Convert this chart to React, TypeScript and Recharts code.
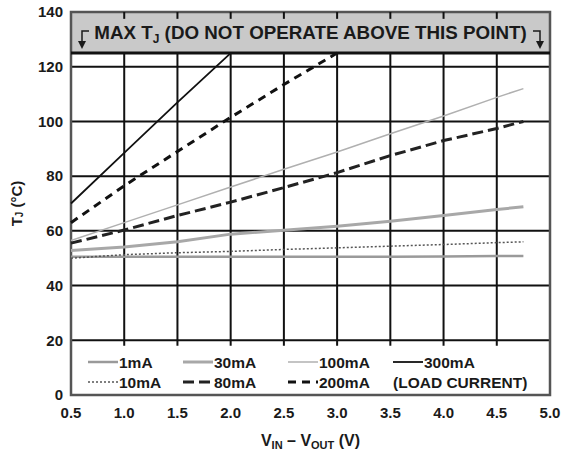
import {
  LineChart,
  Line,
  XAxis,
  YAxis,
  CartesianGrid,
  ReferenceArea,
  ReferenceLine,
} from "recharts";

// V_IN - V_OUT (V)
const vDiff = [0.5, 1.0, 1.5, 2.0, 2.5, 3.0, 3.5, 4.0, 4.5, 4.75];

// junction temperature (°C) per load current
const tj1mA = [50.5, 50.5, 50.5, 50.5, 50.5, 50.5, 50.5, 50.6, 50.8, 50.8];
const tj10mA = [50, 51.3, 52, 52.5, 53.2, 53.8, 54.4, 55, 55.7, 56];
const tj30mA = [52.8, 54.1, 56, 58.8, 60.2, 61.7, 63.5, 65.6, 67.8, 68.8];
const tj80mA = [55.5, 60.3, 65.6, 70.5, 75.8, 81.3, 87.5, 93, 97.4, 100];
const tj100mA = [56.5, 63, 69.5, 76, 82.5, 88.8, 95.5, 102, 108.8, 112];
const tj200mA = [63, 76.5, 89, 101.5, 113.5, 125, null, null, null, null];
const tj300mA = [70, 88.5, 107, 125, null, null, null, null, null, null];

const xTicks = [0.5, 1.0, 1.5, 2.0, 2.5, 3.0, 3.5, 4.0, 4.5, 5.0];
const yTicks = [0, 20, 40, 60, 80, 100, 120, 140];
const vGrid = [1.0, 1.5, 2.0, 2.5, 3.0, 3.5, 4.0, 4.5];
const maxTj = 125;

const rows = vDiff.map((v, i) => ({
  v,
  a1: tj1mA[i],
  a10: tj10mA[i],
  a30: tj30mA[i],
  a80: tj80mA[i],
  a100: tj100mA[i],
  a200: tj200mA[i],
  a300: tj300mA[i],
}));

const INK = "#1a1a1a";
const FONT = "'Liberation Sans', Arial, sans-serif";

function BandLabel(props: any) {
  const { x, y, width } = props.viewBox;
  const lx = x + 11;
  const rx = x + width - 10;
  return (
    <g>
      <text
        x={x + width / 2}
        y={y + 27}
        textAnchor="middle"
        fontFamily={FONT}
        fontWeight="bold"
        fontSize={18.8}
        fill={INK}
      >
        MAX T
        <tspan fontSize={12} dy={4}>J</tspan>
        <tspan dy={-4}> (DO NOT OPERATE ABOVE THIS POINT)</tspan>
      </text>
      <path d={`M${lx + 7},${y + 19} H${lx} V${y + 32}`} stroke={INK} strokeWidth={1.5} fill="none" />
      <path d={`M${lx - 4},${y + 29} L${lx + 4},${y + 29} L${lx},${y + 37} Z`} fill={INK} />
      <path d={`M${rx - 7},${y + 19} H${rx} V${y + 32}`} stroke={INK} strokeWidth={1.5} fill="none" />
      <path d={`M${rx - 4},${y + 29} L${rx + 4},${y + 29} L${rx},${y + 37} Z`} fill={INK} />
    </g>
  );
}

function YLabel(props: any) {
  const { x, y, height } = props.viewBox;
  const cx = x + 16;
  const cy = y + height / 2;
  return (
    <text
      x={cx}
      y={cy}
      transform={`rotate(-90, ${cx}, ${cy})`}
      textAnchor="middle"
      dominantBaseline="central"
      fontFamily={FONT}
      fontWeight="bold"
      fontSize={15}
      fill={INK}
    >
      T<tspan fontSize={10} dy={3}>J</tspan>
      <tspan dy={-3}> (°C)</tspan>
    </text>
  );
}

function XLabel(props: any) {
  const { x, y, width } = props.viewBox;
  return (
    <text
      x={x + width / 2}
      y={y + 51}
      textAnchor="middle"
      fontFamily={FONT}
      fontWeight="bold"
      fontSize={16}
      fill={INK}
    >
      V<tspan fontSize={11} dy={3}>IN</tspan>
      <tspan dy={-3}> – V</tspan>
      <tspan fontSize={11} dy={3}>OUT</tspan>
      <tspan dy={-3}> (V)</tspan>
    </text>
  );
}

const legendItems = [
  { name: "1mA", col: 0, row: 0, color: "#9a9a9a", width: 2.5, dash: undefined },
  { name: "30mA", col: 1, row: 0, color: "#a8a8a8", width: 3, dash: undefined },
  { name: "100mA", col: 2, row: 0, color: "#b0b0b0", width: 1.5, dash: undefined },
  { name: "300mA", col: 3, row: 0, color: "#111", width: 1.8, dash: undefined },
  { name: "10mA", col: 0, row: 1, color: "#555", width: 1.5, dash: "2 2" },
  { name: "80mA", col: 1, row: 1, color: "#222", width: 3, dash: "11 5" },
  { name: "200mA", col: 2, row: 1, color: "#111", width: 3, dash: "8 6" },
];
const legendCols = [88, 183, 288, 393];
const legendRows = [362, 382];

function LegendOverlay() {
  return (
    <svg
      width={561}
      height={457}
      style={{ position: "absolute", left: 0, top: 0, pointerEvents: "none" }}
    >
      {legendItems.map((it) => {
        const x = legendCols[it.col];
        const y = legendRows[it.row];
        return (
          <g key={it.name}>
            <line
              x1={x}
              x2={x + 30}
              y1={y}
              y2={y}
              stroke={it.color}
              strokeWidth={it.width}
              strokeDasharray={it.dash}
            />
            <text
              x={x + 31}
              y={y}
              dominantBaseline="central"
              fontFamily={FONT}
              fontWeight="bold"
              fontSize={15.5}
              fill={INK}
            >
              {it.name}
            </text>
          </g>
        );
      })}
      <text
        x={legendCols[3]}
        y={legendRows[1]}
        dominantBaseline="central"
        fontFamily={FONT}
        fontWeight="bold"
        fontSize={15.5}
        fill={INK}
      >
        (LOAD CURRENT)
      </text>
    </svg>
  );
}

export default function App() {
  return (
    <div style={{ position: "absolute", left: 0, top: 0, width: 561, height: 457, background: "#fff" }}>
      <LineChart
        width={561}
        height={457}
        data={rows}
        margin={{ top: 12, right: 11, bottom: 0, left: 0 }}
      >
        <ReferenceArea y1={maxTj} y2={140} fill="#c9c9c9" fillOpacity={1} stroke="none" label={<BandLabel />} />
        <CartesianGrid vertical={false} stroke="#111" strokeWidth={2} />
        {vGrid.map((v) => (
          <ReferenceLine
            key={`v${v}`}
            segment={[{ x: v, y: 18 }, { x: v, y: maxTj }]}
            stroke="#111"
            strokeWidth={2}
          />
        ))}
        {vGrid.map((v) => (
          <ReferenceLine
            key={`t${v}`}
            segment={[{ x: v, y: 137.5 }, { x: v, y: 140 }]}
            stroke="#111"
            strokeWidth={2}
          />
        ))}
        <ReferenceLine y={maxTj} stroke="#111" strokeWidth={3} />
        <XAxis
          dataKey="v"
          type="number"
          domain={[0.5, 5]}
          ticks={xTicks}
          tickFormatter={(v: number) => v.toFixed(1)}
          tickLine={false}
          axisLine={false}
          tickMargin={6}
          height={62}
          tick={{ fontFamily: FONT, fontWeight: "bold", fontSize: 15, fill: INK }}
          label={<XLabel />}
        />
        <YAxis
          type="number"
          domain={[0, 140]}
          ticks={yTicks}
          tickLine={false}
          axisLine={false}
          width={71}
          tick={{ fontFamily: FONT, fontWeight: "bold", fontSize: 15, fill: INK }}
          label={<YLabel />}
        />
        <Line dataKey="a1" stroke="#9a9a9a" strokeWidth={2.5} dot={false} isAnimationActive={false} />
        <Line dataKey="a10" stroke="#555" strokeWidth={1.5} strokeDasharray="2 2" dot={false} isAnimationActive={false} />
        <Line dataKey="a30" stroke="#a8a8a8" strokeWidth={3} dot={false} isAnimationActive={false} />
        <Line dataKey="a80" stroke="#222" strokeWidth={3} strokeDasharray="11 5" dot={false} isAnimationActive={false} />
        <Line dataKey="a100" stroke="#b0b0b0" strokeWidth={1.5} dot={false} isAnimationActive={false} />
        <Line dataKey="a200" stroke="#111" strokeWidth={3} strokeDasharray="8 6" dot={false} isAnimationActive={false} />
        <Line dataKey="a300" stroke="#111" strokeWidth={1.8} dot={false} isAnimationActive={false} />
        <ReferenceArea
          x1={0.5}
          x2={5}
          y1={0}
          y2={140}
          fill="none"
          stroke="#555"
          strokeWidth={2.5}
        />
      </LineChart>
      <LegendOverlay />
    </div>
  );
}
